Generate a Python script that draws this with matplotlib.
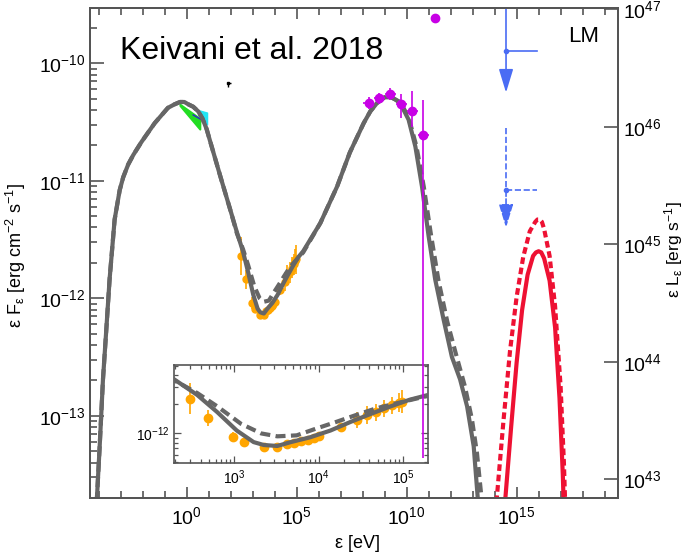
import numpy as np
import matplotlib
matplotlib.use("Agg")
import matplotlib.pyplot as plt
from matplotlib.ticker import LogLocator, FixedLocator, NullFormatter, LogFormatterSciNotation

plt.rcParams['font.family'] = ['Liberation Sans', 'DejaVu Sans']
plt.rcParams['mathtext.fontset'] = 'custom'
plt.rcParams['mathtext.rm'] = 'Liberation Sans'
plt.rcParams['mathtext.it'] = 'Liberation Sans:italic'
plt.rcParams['mathtext.bf'] = 'Liberation Sans:bold'
plt.rcParams['mathtext.default'] = 'regular'

# ---------------- data (log10 of energy [eV] and of flux [erg cm^-2 s^-1]) ----------------
solid_log_e = [-4.16, -3.95, -3.80, -3.65, -3.50, -3.27, -3.04, -2.88, -2.65, -2.42, -2.05, -1.45, -0.85,
               -0.55, -0.30, -0.10, 0.08, 0.30, 0.53, 0.72, 0.91, 1.08, 1.53, 1.99, 2.29, 2.56, 2.80, 3.03,
               3.23, 3.35, 3.51, 3.67, 3.90, 4.14, 4.38, 4.61, 4.85, 5.08, 5.30, 6.08, 6.84, 7.42, 8.05,
               8.35, 8.65, 9.00, 9.30, 9.50, 9.71, 10.09, 10.40, 10.70, 11.00, 11.30, 11.68, 12.06, 12.43,
               12.75, 13.05, 13.23, 13.28]
solid_log_f = [-14.0, -13.26, -12.69, -12.27, -11.84, -11.33, -11.08, -10.97, -10.86, -10.78, -10.67, -10.51,
               -10.38, -10.35, -10.33, -10.33, -10.35, -10.37, -10.41, -10.47, -10.56, -10.67, -10.96, -11.25,
               -11.44, -11.60, -11.78, -11.97, -12.09, -12.12, -12.13, -12.09, -12.04, -11.97, -11.88, -11.80,
               -11.72, -11.65, -11.60, -11.36, -11.05, -10.76, -10.51, -10.41, -10.34, -10.29, -10.29, -10.31,
               -10.34, -10.48, -10.71, -11.05, -11.47, -11.84, -12.18, -12.50, -12.69, -12.92, -13.26, -13.69,
               -14.0]

dashed_log_e = [-4.16, -3.95, -3.80, -3.65, -3.50, -3.27, -3.04, -2.88, -2.65, -2.42, -2.05, -1.45, -0.85,
                -0.55, -0.30, -0.10, 0.08, 0.30, 0.53, 0.72, 0.91, 1.08, 1.53, 1.99, 2.29, 2.56, 2.80, 3.08,
                3.32, 3.51, 3.74, 3.97, 4.21, 4.44, 4.68, 4.91, 5.15, 5.30, 6.08, 6.84, 7.42, 8.05, 8.35,
                8.65, 9.00, 9.30, 9.50, 9.71, 10.09, 10.45, 10.78, 11.10, 11.45, 11.85, 12.25, 12.65, 12.97,
                13.20, 13.40, 13.45]
dashed_log_f = [-14.0, -13.26, -12.69, -12.27, -11.84, -11.33, -11.08, -10.97, -10.86, -10.78, -10.67, -10.51,
                -10.38, -10.35, -10.33, -10.33, -10.35, -10.37, -10.41, -10.47, -10.56, -10.67, -10.96, -11.25,
                -11.45, -11.58, -11.72, -11.90, -12.00, -12.03, -12.02, -11.95, -11.88, -11.81, -11.74, -11.69,
                -11.64, -11.61, -11.36, -11.05, -10.76, -10.51, -10.41, -10.34, -10.29, -10.29, -10.31, -10.33,
                -10.46, -10.71, -11.05, -11.45, -11.85, -12.20, -12.48, -12.75, -13.03, -13.32, -13.69, -14.0]

nu_solid_log_e = [14.40, 14.49, 14.75, 15.00, 15.25, 15.50, 15.75, 15.88, 16.00, 16.12, 16.25, 16.50, 16.75,
                  16.95, 17.10, 17.18]
nu_solid_log_f = [-14.0, -13.70, -13.10, -12.55, -12.10, -11.80, -11.64, -11.61, -11.60, -11.61, -11.66, -11.85,
                  -12.25, -12.85, -13.50, -14.0]
nu_dashed_log_e = [14.00, 14.10, 14.40, 14.70, 15.00, 15.30, 15.60, 15.85, 15.95, 16.05, 16.15, 16.25, 16.50,
                   16.75, 17.00, 17.15, 17.25]
nu_dashed_log_f = [-14.0, -13.70, -13.05, -12.45, -11.99, -11.65, -11.43, -11.35, -11.33, -11.33, -11.35, -11.41,
                   -11.64, -12.07, -12.75, -13.40, -14.0]

xray_log_e = [2.47, 2.69, 2.99, 3.11, 3.35, 3.51, 3.62, 3.71, 3.79, 3.87, 3.94, 4.01, 4.26, 4.46,
              4.57, 4.68, 4.77, 4.87, 4.95, 4.99]
xray_log_f = [-11.64, -11.84, -12.04, -12.09, -12.14, -12.14, -12.11, -12.10, -12.08, -12.07, -12.05,
              -12.03, -11.93, -11.86, -11.81, -11.78, -11.74, -11.71, -11.68, -11.67]
xray_log_err = [0.16, 0.08, 0.05, 0.03, 0.03, 0.03, 0.03, 0.03, 0.03, 0.03, 0.03, 0.03, 0.04, 0.08,
                0.09, 0.09, 0.09, 0.09, 0.10, 0.12]

gamma_log_e = [8.28, 8.76, 9.26, 9.76, 10.25, 10.75]
gamma_log_f = [-10.34, -10.30, -10.26, -10.35, -10.41, -10.61]
gamma_log_ebin = [0.25, 0.25, 0.25, 0.25, 0.25, 0.25]
gamma_log_err_up = [0.05, 0.05, 0.05, 0.09, 0.17, 0.30]
gamma_log_err_dn = [0.05, 0.05, 0.05, 0.12, 0.13, 2.75]
gamma_extra_log_e = [11.27]
gamma_extra_log_f = [-9.615]

uvot_log_e = [-0.30, 0.60]
uvot_log_f_hi = [-10.35, -10.47]
uvot_log_f_lo = [-10.36, -10.56]
xuv_log_e = [0.55, 0.93]
xuv_log_f_hi = [-10.40, -10.42]
xuv_log_f_lo = [-10.45, -10.52]
uvline_log_e = [0.30, 0.85]
uvline_log_f = [-10.44, -10.50]

opt_point_log_e = [1.90]
opt_point_log_f = [-10.17]

ul_log_e = [14.52, 14.52]
ul_log_e_hi = [15.93, 15.93]
ul_log_f = [-9.90, -11.08]
ul_log_f_top = [-9.30, -10.55]
ul_log_f_tip = [-10.25, -11.40]

x_major_ticks = [1e0, 1e5, 1e10, 1e15]
y_major_ticks = [1e-13, 1e-12, 1e-11, 1e-10]
lum_major_ticks = [1e43, 1e44, 1e45, 1e46, 1e47]
inset_x_ticks = [1e3, 1e4, 1e5]
inset_y_ticks = [1e-12]

log_lum_offset = 56.54  # log10(L / F)

# ---------------- styling ----------------
GRAY = '#666666'
RED = '#ee1133'
BLUE = '#4a6cf4'
MAG = '#c800e6'
ORANGE = '#ffa500'
SPINE = '#555555'

p = lambda v: 10 ** np.asarray(v, dtype=float)

fig = plt.figure(figsize=(6.87, 5.55), dpi=100)
ax = fig.add_axes([0.131, 0.1027, 0.7686, 0.8829])
ax.set_xscale('log')
ax.set_yscale('log')
xlim = (p(-4.39), p(19.61))
ylim = (p(-13.70), p(-9.53))


def draw_models(a):
    a.plot(p(solid_log_e), p(solid_log_f), color=GRAY, lw=3.0, solid_joinstyle='round', zorder=3)
    a.plot(p(dashed_log_e), p(dashed_log_f), color=GRAY, lw=3.0, ls=(0, (2.4, 1.3)), zorder=3)


def draw_xray(a, ms):
    y = p(xray_log_f)
    err = np.array(xray_log_err)
    a.errorbar(p(xray_log_e), y, yerr=[y - y * 10 ** (-err), y * 10 ** err - y], fmt='o',
               color=ORANGE, ms=ms, elinewidth=1.2, capsize=0, zorder=2)


draw_models(ax)
draw_xray(ax, 5)

# UV / optical bowties
ax.fill_between(p(uvot_log_e), p(uvot_log_f_lo), p(uvot_log_f_hi), color='#22dd22', lw=1.5, zorder=2)
ax.fill_between(p(xuv_log_e), p(xuv_log_f_lo), p(xuv_log_f_hi), color='#22e5f5', lw=1, zorder=2)
ax.plot(p(uvline_log_e), p(uvline_log_f), color='#3322cc', lw=1, zorder=2)

# tiny optical point
ax.errorbar(p(opt_point_log_e), p(opt_point_log_f),
            xerr=[[0], [p(opt_point_log_e)[0] * (10 ** 0.12 - 1)]],
            yerr=[[p(opt_point_log_f)[0] * (1 - 10 ** -0.03)], [0]],
            fmt='s', ms=1.5, color='black', elinewidth=1, capsize=0)

# gamma-ray points
gy = p(gamma_log_f)
gx = p(gamma_log_e)
gb = np.array(gamma_log_ebin)
ax.errorbar(gx, gy,
            xerr=[gx - gx * 10 ** (-gb), gx * 10 ** gb - gx],
            yerr=[gy - gy * 10 ** (-np.array(gamma_log_err_dn)), gy * 10 ** np.array(gamma_log_err_up) - gy],
            fmt='o', color=MAG, ms=6, elinewidth=1.2, capsize=0, zorder=6)
ax.plot(p(gamma_extra_log_e), p(gamma_extra_log_f), 'o', color=MAG, ms=6, zorder=6)

# neutrino model
ax.plot(p(nu_solid_log_e), p(nu_solid_log_f), color=RED, lw=3.0, zorder=3)
ax.plot(p(nu_dashed_log_e), p(nu_dashed_log_f), color=RED, lw=3.0, ls=(0, (1.6, 0.9)), zorder=3)

# neutrino upper limits
for i, style in enumerate(['-', '--']):
    x0 = p(ul_log_e[i])
    x1 = p(ul_log_e_hi[i])
    y0 = p(ul_log_f[i])
    yt = p(ul_log_f_top[i])
    ytip = p(ul_log_f_tip[i])
    ax.plot([x0, x1], [y0, y0], color=BLUE, lw=1.2, ls=style, zorder=4)
    ax.plot([x0, x0], [yt, y0], color=BLUE, lw=1.2, ls=style, zorder=4)
    ax.plot([x0], [y0], 'o', color=BLUE, ms=3, zorder=4)
    ax.annotate('', xy=(x0, ytip), xytext=(x0, y0),
                arrowprops=dict(arrowstyle='-|>,head_length=0.72,head_width=0.22', color=BLUE,
                                lw=1.2, ls=style, shrinkA=0, shrinkB=0, mutation_scale=20), zorder=4)

ax.set_xlim(*xlim)
ax.set_ylim(*ylim)

ax.xaxis.set_major_locator(FixedLocator(x_major_ticks))
ax.xaxis.set_major_formatter(LogFormatterSciNotation())
ax.xaxis.set_minor_locator(LogLocator(base=10, subs=(1.0,), numticks=60))
ax.xaxis.set_minor_formatter(NullFormatter())
ax.yaxis.set_major_locator(FixedLocator(y_major_ticks))
ax.yaxis.set_major_formatter(LogFormatterSciNotation())
ax.yaxis.set_minor_locator(LogLocator(base=10, subs=np.arange(2, 10), numticks=20))
ax.yaxis.set_minor_formatter(NullFormatter())

ax.tick_params(axis='both', which='both', direction='in', colors=SPINE, labelcolor='black', width=1.2)
ax.tick_params(axis='x', which='major', length=8, top=True, labelsize=14, pad=6)
ax.tick_params(axis='x', which='minor', length=5, top=True)
ax.tick_params(axis='y', which='major', length=10, labelsize=14, right=False)
ax.tick_params(axis='y', which='minor', length=5, right=False)
for s in ax.spines.values():
    s.set_color(SPINE)
    s.set_linewidth(1.4)

ax.set_xlabel(r'ε [eV]', fontsize=13)
ax.xaxis.set_label_coords(0.506, -0.075)
ax.set_ylabel(r'ε F$_{ε}$ [erg cm$^{-2}$ s$^{-1}$]', fontsize=13)
ax.yaxis.set_label_coords(-0.118, 0.496)

# right luminosity axis
ax2 = ax.twinx()
ax2.set_yscale('log')
ax2.set_ylim(ylim[0] * 10 ** log_lum_offset, ylim[1] * 10 ** log_lum_offset)
ax2.yaxis.set_major_locator(FixedLocator(lum_major_ticks))
ax2.yaxis.set_major_formatter(LogFormatterSciNotation())
ax2.yaxis.set_minor_locator(FixedLocator([]))
ax2.tick_params(axis='y', which='major', direction='in', length=10, width=1.2, colors=SPINE,
                labelcolor='black', labelsize=14)
for s in ax2.spines.values():
    s.set_color(SPINE)
    s.set_linewidth(1.4)
ax2.set_ylabel(r'ε L$_{ε}$ [erg s$^{-1}$]', fontsize=12.5, rotation=90)
ax2.yaxis.set_label_coords(1.083, 0.506)

# texts
ax.text(0.056, 0.895, 'Keivani et al. 2018', transform=ax.transAxes, fontsize=23, ha='left',
        va='baseline')
ax.text(0.905, 0.93, 'LM', transform=ax.transAxes, fontsize=16, ha='left', va='baseline')

# inset
ins = ax.inset_axes([0.1597, 0.0708, 0.481, 0.2006])
ins.set_xscale('log')
ins.set_yscale('log')
draw_models(ins)
draw_xray(ins, 6)
ins.set_xlim(p(2.29), p(5.30))
ins.set_ylim(p(-12.31), p(-11.29))
ins.xaxis.set_major_locator(FixedLocator(inset_x_ticks))
ins.xaxis.set_major_formatter(LogFormatterSciNotation())
ins.xaxis.set_minor_locator(LogLocator(base=10, subs=np.arange(2, 10), numticks=20))
ins.xaxis.set_minor_formatter(NullFormatter())
ins.yaxis.set_major_locator(FixedLocator(inset_y_ticks))
ins.yaxis.set_major_formatter(LogFormatterSciNotation())
ins.yaxis.set_minor_locator(LogLocator(base=10, subs=np.arange(2, 10), numticks=20))
ins.yaxis.set_minor_formatter(NullFormatter())
ins.tick_params(axis='both', which='both', direction='in', colors=SPINE, labelcolor='black',
                top=True, right=True, width=0.9, labelsize=10)
ins.tick_params(axis='both', which='major', length=5)
ins.tick_params(axis='both', which='minor', length=3)
for s in ins.spines.values():
    s.set_color(SPINE)
    s.set_linewidth(1.2)

fig.savefig('out.png', dpi=100)
